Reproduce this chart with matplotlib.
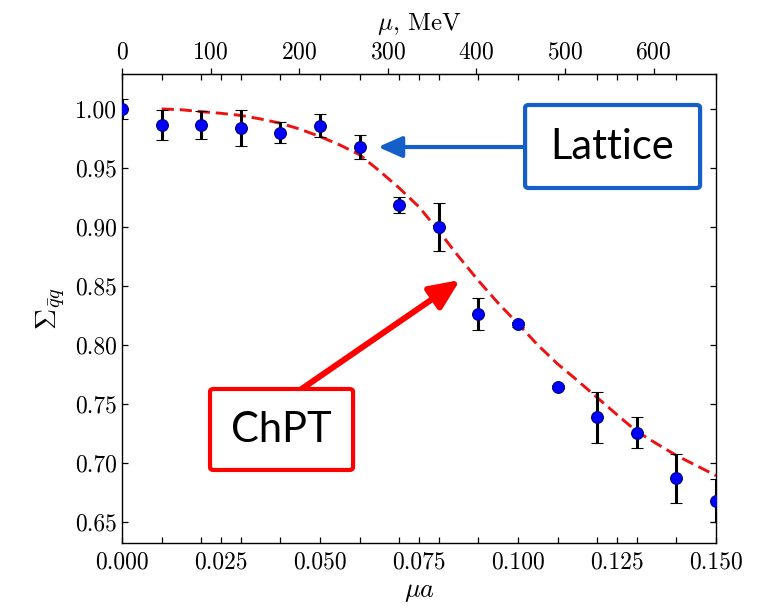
import matplotlib
matplotlib.use('Agg')
import matplotlib.pyplot as plt
from matplotlib.patches import FancyBboxPatch
from matplotlib.ticker import MultipleLocator

plt.rcParams['font.family'] = 'serif'
plt.rcParams['font.serif'] = ['cmr10', 'DejaVu Serif']
plt.rcParams['mathtext.fontset'] = 'cm'
plt.rcParams['axes.unicode_minus'] = False
plt.rcParams['axes.formatter.use_mathtext'] = True

# lattice data: mu*a, Sigma, error
mu_a = [0.00, 0.01, 0.02, 0.03, 0.04, 0.05, 0.06, 0.07,
        0.08, 0.09, 0.10, 0.11, 0.12, 0.13, 0.14, 0.15]
sigma = [1.000, 0.9865, 0.9865, 0.984, 0.980, 0.9856, 0.968, 0.9188,
         0.9004, 0.8263, 0.8176, 0.7645, 0.7389, 0.7256, 0.6873, 0.6683]
sigma_err = [0.0086, 0.0127, 0.012, 0.015, 0.009, 0.0097, 0.010, 0.007,
             0.0203, 0.0134, 0.002, 0.002, 0.0216, 0.0131, 0.0209, 0.018]

# ChPT curve
chpt_x = [0.010, 0.015, 0.020, 0.025, 0.030, 0.035, 0.040, 0.045, 0.050,
          0.055, 0.060, 0.065, 0.070, 0.075, 0.080, 0.085, 0.090, 0.095,
          0.100, 0.105, 0.110, 0.115, 0.120, 0.125, 0.130, 0.135, 0.140,
          0.145, 0.150]
chpt_y = [1.000, 0.9993, 0.9977, 0.9963, 0.9945, 0.9915, 0.9879, 0.9828, 0.9766,
          0.9695, 0.9612, 0.9475, 0.933, 0.917, 0.8965, 0.875, 0.8545, 0.8355,
          0.818, 0.800, 0.784, 0.770, 0.7555, 0.741, 0.7268, 0.7165, 0.7065,
          0.698, 0.6895]

inv_a = 4470.0  # MeV
mev_ticks = [0, 100, 200, 300, 400, 500, 600]

fig = plt.figure(figsize=(7.67, 6.08), dpi=100)
ax = fig.add_axes([0.1591, 0.1069, 0.7745, 0.7714])

ax.plot(chpt_x, chpt_y, color='#ee1111', lw=2.1, dashes=(4.2, 2.0), zorder=2)
ax.errorbar(mu_a, sigma, yerr=sigma_err, fmt='o', color='blue', mfc='blue',
            mec='#000080', ms=8.5, mew=0.8, ecolor='black', elinewidth=2.2,
            capsize=4, capthick=0.9, zorder=3)

ax.set_xlim(0, 0.15)
ax.set_ylim(0.6324, 1.0296)
ax.xaxis.set_major_locator(MultipleLocator(0.025))
ax.xaxis.set_minor_locator(MultipleLocator(0.01))
ax.yaxis.set_major_locator(MultipleLocator(0.05))
ax.xaxis.set_major_formatter(plt.FormatStrFormatter('%.3f'))
ax.yaxis.set_major_formatter(plt.FormatStrFormatter('%.2f'))
ax.tick_params(which='both', direction='in', top=True, right=True,
               length=4, width=0.9, labelsize=17)
ax.tick_params(axis='x', pad=6)
for s in ax.spines.values():
    s.set_linewidth(1.0)

ax.set_xlabel(r'$\mu a$', fontsize=19, labelpad=5)
ax.set_ylabel(r'$\Sigma_{\bar{q}q}$', fontsize=21, labelpad=6)

sec = ax.secondary_xaxis('top', functions=(lambda x: x * inv_a, lambda m: m / inv_a))
sec.set_xticks(mev_ticks)
sec.tick_params(direction='out', length=4, width=0.9, labelsize=17)
sec.minorticks_off()
sec.set_xlabel(r'$\mu$, MeV', fontsize=18, labelpad=8)

# annotation boxes
box_font = ['Lato', 'DejaVu Sans']
lat = FancyBboxPatch((0.6785, 0.7569), 0.2946, 0.177, transform=ax.transAxes,
                     boxstyle='round,pad=0,rounding_size=0.006', fc='white',
                     ec='#1560c8', lw=3.0, clip_on=False, zorder=5)
ax.add_patch(lat)
ax.text(0.8258, 0.8454, 'Lattice', transform=ax.transAxes, ha='center', va='center',
        fontsize=30, family=box_font, color='black', zorder=6)
ax.annotate('', xy=(0.4310, 0.8443), xytext=(0.6785, 0.8443),
            xycoords='axes fraction', textcoords='axes fraction',
            arrowprops=dict(arrowstyle='-|>,head_length=0.72,head_width=0.32',
                            mutation_scale=20, lw=3.0, color='#1560c8',
                            shrinkA=0, shrinkB=0), zorder=5)

chpt = FancyBboxPatch((0.1481, 0.1557), 0.2408, 0.1727, transform=ax.transAxes,
                      boxstyle='round,pad=0,rounding_size=0.006', fc='white',
                      ec='#ff0000', lw=3.0, clip_on=False, zorder=5)
ax.add_patch(chpt)
ax.text(0.2685, 0.2420, 'ChPT', transform=ax.transAxes, ha='center', va='center',
        fontsize=30, family=box_font, color='black', zorder=6)
ax.annotate('', xy=(0.5690, 0.5608), xytext=(0.2997, 0.3262),
            xycoords='axes fraction', textcoords='axes fraction',
            arrowprops=dict(arrowstyle='-|>,head_length=0.9,head_width=0.4',
                            mutation_scale=20, lw=4.3, color='#ff0000',
                            shrinkA=0, shrinkB=0), zorder=4)

fig.savefig('out.png', dpi=100)
